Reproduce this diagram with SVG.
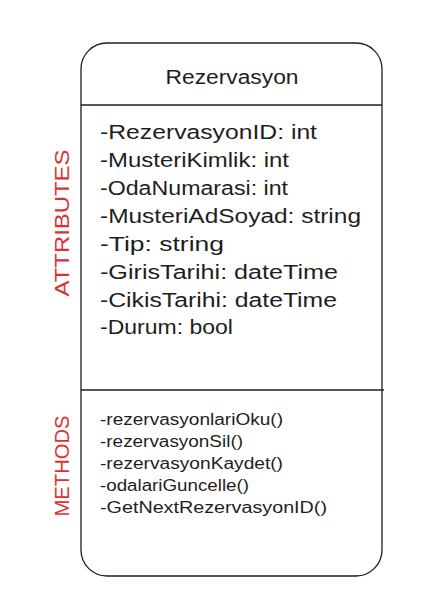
<svg xmlns="http://www.w3.org/2000/svg" width="437" height="612" viewBox="0 0 437 612">
<style>
.t{font-family:"Liberation Sans","DejaVu Sans",sans-serif;fill:#1e1e1e}
.a{font-size:20px}
.m{font-size:16px}
.r{font-family:"Liberation Sans","DejaVu Sans",sans-serif;fill:#e03131;font-size:20px;text-anchor:middle}
.ln{stroke:#1e1e1e;stroke-width:1.3;fill:none}
</style>
<rect width="437" height="612" fill="#ffffff"/>
<g id="class-rezervasyon">
<rect class="ln" x="81" y="43" width="301" height="533" rx="26" ry="26"/>
<line class="ln" x1="81" y1="105" x2="382" y2="105"/>
<line class="ln" x1="81" y1="390" x2="384" y2="390"/>
<text class="t" x="232" y="84" font-size="20" text-anchor="middle" textLength="133" lengthAdjust="spacingAndGlyphs">Rezervasyon</text>
<text class="t a" x="100" y="139" textLength="217" lengthAdjust="spacingAndGlyphs">-RezervasyonID: int</text>
<text class="t a" x="100" y="167" textLength="189" lengthAdjust="spacingAndGlyphs">-MusteriKimlik: int</text>
<text class="t a" x="100" y="195" textLength="188" lengthAdjust="spacingAndGlyphs">-OdaNumarasi: int</text>
<text class="t a" x="100" y="223" textLength="261" lengthAdjust="spacingAndGlyphs">-MusteriAdSoyad: string</text>
<text class="t a" x="100" y="251" textLength="124" lengthAdjust="spacingAndGlyphs">-Tip: string</text>
<text class="t a" x="100" y="279" textLength="238" lengthAdjust="spacingAndGlyphs">-GirisTarihi: dateTime</text>
<text class="t a" x="100" y="307" textLength="237" lengthAdjust="spacingAndGlyphs">-CikisTarihi: dateTime</text>
<text class="t a" x="100" y="334" textLength="133" lengthAdjust="spacingAndGlyphs">-Durum: bool</text>
<text class="t m" x="100" y="425" textLength="183" lengthAdjust="spacingAndGlyphs">-rezervasyonlariOku()</text>
<text class="t m" x="100" y="447" textLength="143" lengthAdjust="spacingAndGlyphs">-rezervasyonSil()</text>
<text class="t m" x="100" y="469" textLength="183" lengthAdjust="spacingAndGlyphs">-rezervasyonKaydet()</text>
<text class="t m" x="100" y="491" textLength="149" lengthAdjust="spacingAndGlyphs">-odalariGuncelle()</text>
<text class="t m" x="100" y="513" textLength="227" lengthAdjust="spacingAndGlyphs">-GetNextRezervasyonID()</text>
</g>
<g id="label-attributes">
<text class="r" transform="translate(69,223) rotate(-90)" textLength="147" lengthAdjust="spacingAndGlyphs">ATTRIBUTES</text>
</g>
<g id="label-methods">
<text class="r" transform="translate(69,466) rotate(-90)" textLength="101" lengthAdjust="spacingAndGlyphs">METHODS</text>
</g>
<g id="connectors"></g>
</svg>
